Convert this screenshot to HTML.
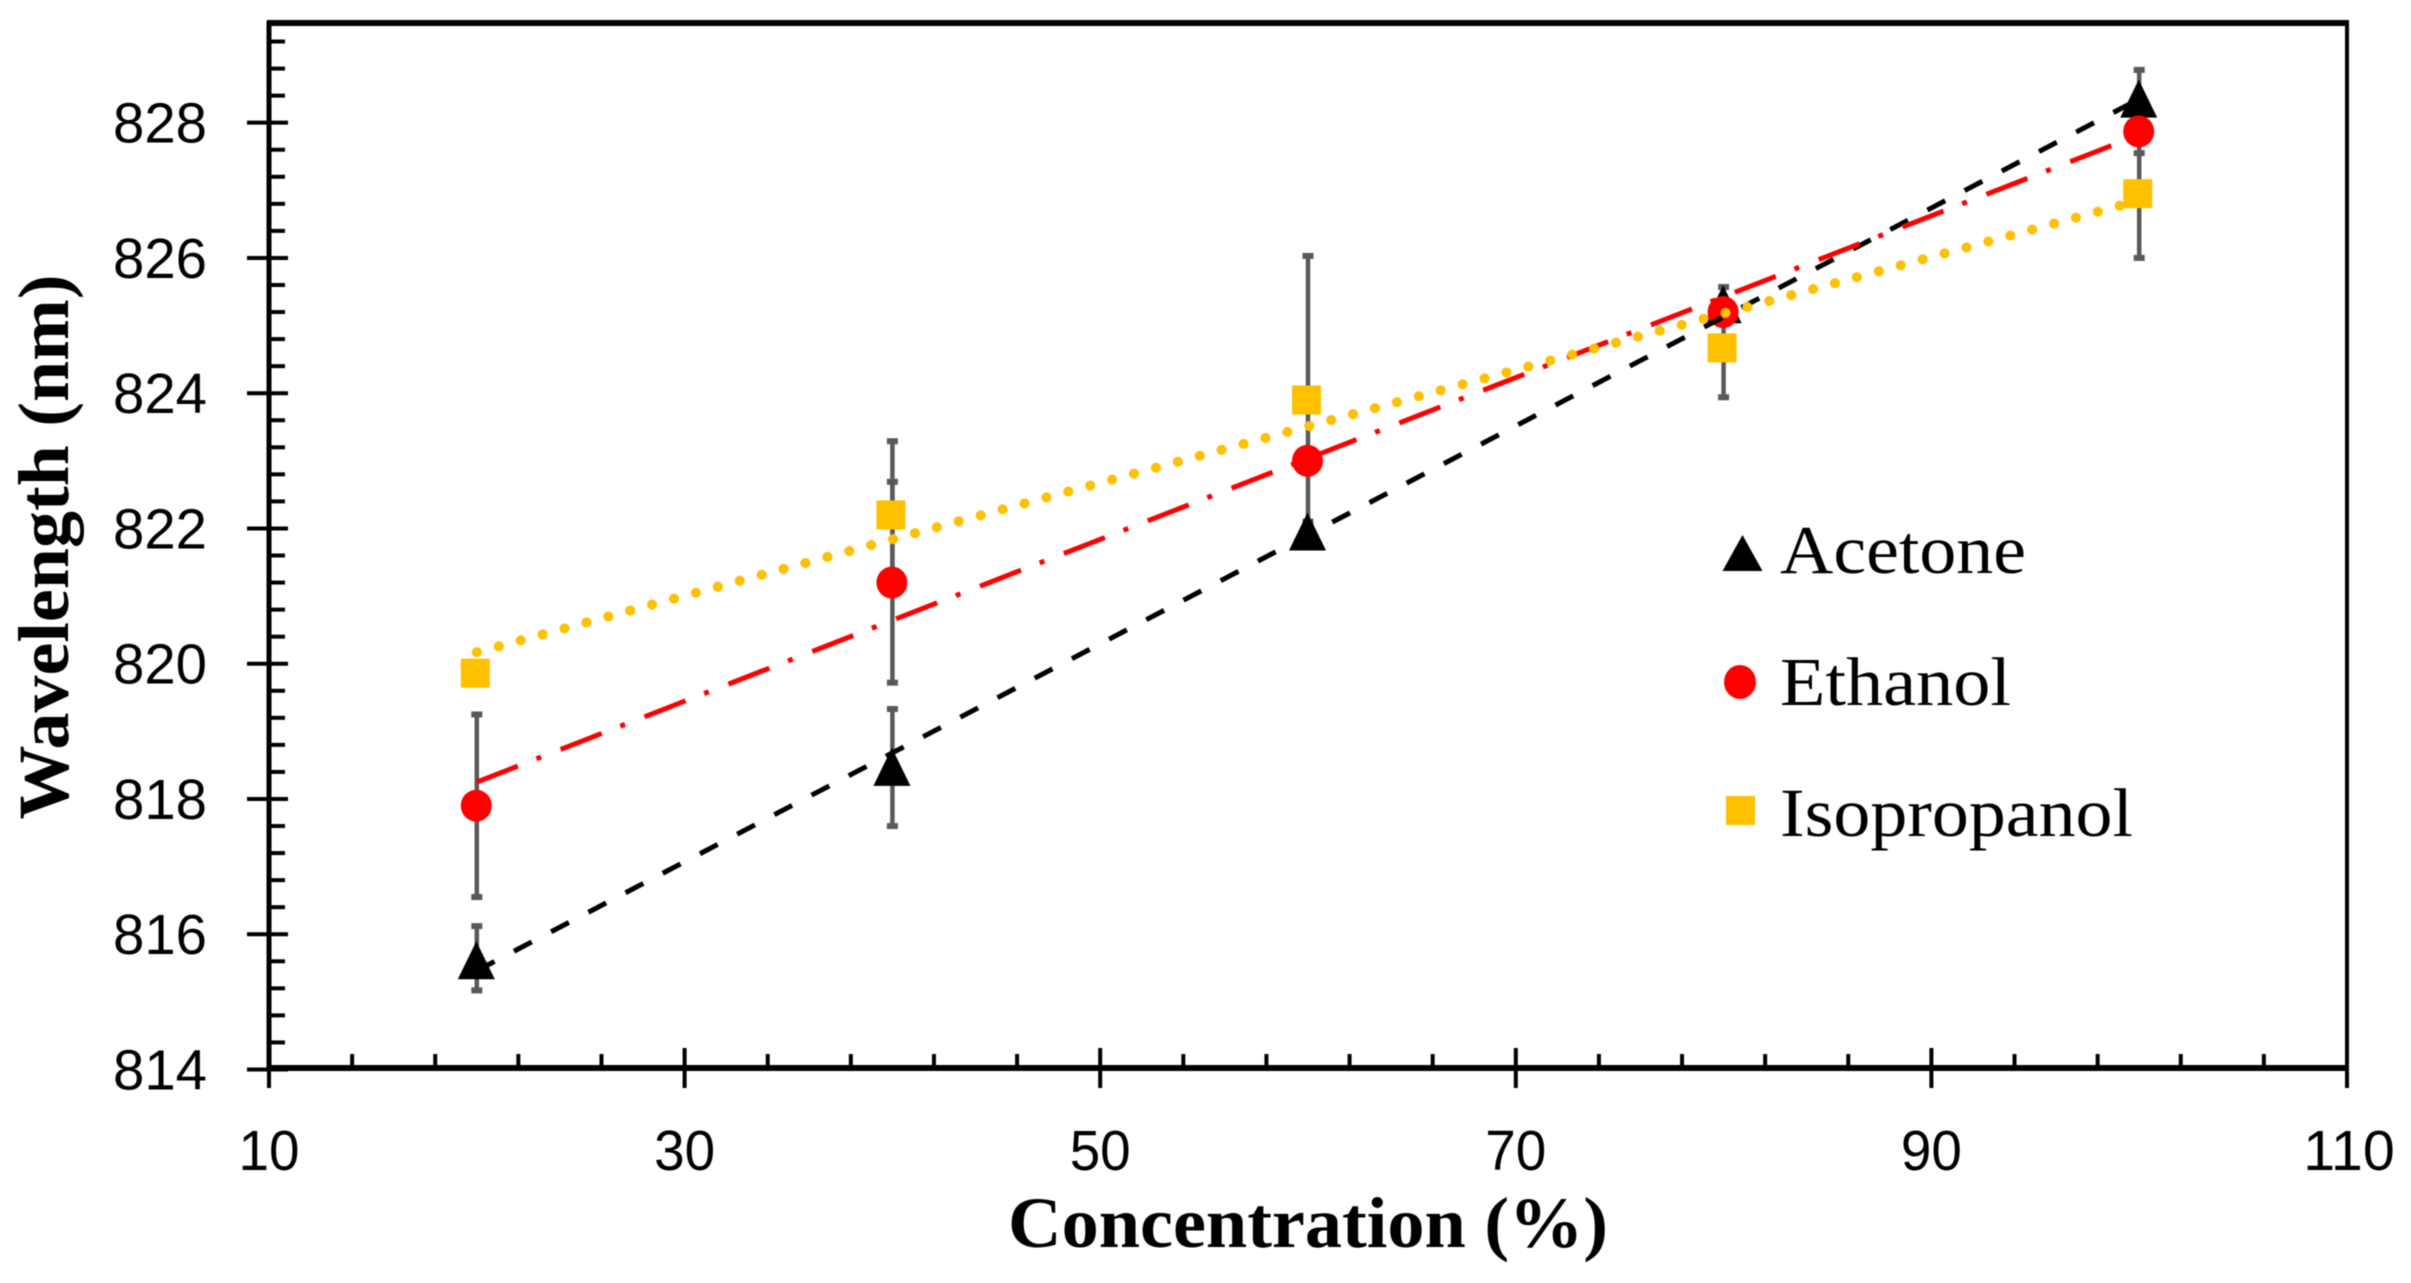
<!DOCTYPE html>
<html lang="en">
<head>
<meta charset="utf-8">
<title>Wavelength vs Concentration</title>
<style>
html,body{margin:0;padding:0;background:#fff;}
svg{display:block;filter:blur(0.6px);}
</style>
</head>
<body>
<svg id="chart" xmlns="http://www.w3.org/2000/svg" width="2411" height="1283" viewBox="0 0 2411 1283">
  <rect x="0" y="0" width="2411" height="1283" fill="#fff"/>
  <g id="errors"></g>
  <g id="markers"></g>
  <g id="trends"></g>
  <g id="axes"></g>
  <text x="1308" y="1247" text-anchor="middle" font-family="'Liberation Serif',serif" font-weight="bold" font-size="72" textLength="600" lengthAdjust="spacingAndGlyphs" fill="#000">Concentration (%)</text>
  <text transform="translate(68,547) rotate(-90)" text-anchor="middle" font-family="'Liberation Serif',serif" font-weight="bold" font-size="72" textLength="545" lengthAdjust="spacingAndGlyphs" fill="#000">Wavelength (nm)</text>
  <g>
    <polygon points="1742.5,535 1762.5,571 1722.5,571" fill="#000"/>
    <text x="1780" y="573" font-family="'Liberation Serif',serif" font-size="69" textLength="246" lengthAdjust="spacingAndGlyphs" fill="#000">Acetone</text>
    <ellipse cx="1740" cy="682" rx="16" ry="17" fill="#ff0000"/>
    <text x="1780" y="705" font-family="'Liberation Serif',serif" font-size="69" textLength="231" lengthAdjust="spacingAndGlyphs" fill="#000">Ethanol</text>
    <rect x="1726" y="796" width="29" height="29" fill="#ffc000"/>
    <text x="1780" y="836" font-family="'Liberation Serif',serif" font-size="69" textLength="353" lengthAdjust="spacingAndGlyphs" fill="#000">Isopropanol</text>
  </g>
</svg>
<script>
const concentrations = [20, 40, 60, 80, 100];

const acetone = [815.6, 818.46, 821.94, 825.3, 828.34];
const ethanol = [817.9, 821.2, 823.0, 825.2, 827.87];
const isopropanol = [819.86, 822.2, 823.9, 824.67, 826.95];

const acetoneLow = [815.17, 817.6, 821.8, 825.1, 827.95];
const acetoneHigh = [816.12, 819.33, 822.1, 825.57, 828.78];
const ethanolLow = [816.55, 819.72, 822.85, 825.05, 827.55];
const ethanolHigh = [819.25, 822.69, 823.15, 825.35, 828.2];
const isopropanolLow = [819.72, 821.1, 821.9, 823.94, 826.0];
const isopropanolHigh = [820.0, 823.29, 826.03, 825.2, 827.9];

const trendX = [20, 100];
const acetoneTrend = [815.46, 828.35];
const ethanolTrend = [818.25, 827.82];
const isopropanolTrend = [820.17, 826.85];

const xTickLabels = [10, 30, 50, 70, 90, 110];
const yTickLabels = [814, 816, 818, 820, 822, 824, 826, 828];

const xAt = v => 269 + (v - 10) * 20.78;
const yAt = v => 1069.5 - (v - 814) * 67.63;

const NS = 'http://www.w3.org/2000/svg';
function make(tag, parent, attrs) {
  const el = document.createElementNS(NS, tag);
  for (const k in attrs) el.setAttribute(k, attrs[k]);
  parent.appendChild(el);
  return el;
}

const axesG = document.getElementById('axes');
const errorsG = document.getElementById('errors');
const markersG = document.getElementById('markers');
const trendsG = document.getElementById('trends');

/* plot frame */
const frame = make('rect', axesG, {x: 269, y: 23, width: 2078, height: 1046, fill: 'none', stroke: '#000'});
frame.setAttribute('stroke-width', '4');



const bottomAxis = make('line', axesG, {x1: 267, x2: 2349, y1: 1068, y2: 1068, stroke: '#000', 'stroke-width': 6});



const leftAxis = make('line', axesG, {x1: 269, x2: 269, y1: 21, y2: 1071, stroke: '#000', 'stroke-width': 5});



const topAxis = make('line', axesG, {x1: 267, x2: 2349, y1: 23, y2: 23, stroke: '#000', 'stroke-width': 6});



/* x ticks */
for (let v = 14; v < 110; v += 4) {
  if ((v - 10) % 20 === 0) continue;
  const t = make('line', axesG, {x1: xAt(v), x2: xAt(v), y1: 1054, y2: 1068, stroke: '#000', 'stroke-width': 4});
  
  
}
xTickLabels.forEach(v => {
  const t = make('line', axesG, {x1: xAt(v), x2: xAt(v), y1: 1048, y2: 1088, stroke: '#000', 'stroke-width': 4});
  
  
  const s = String(v);
  const lab = make('text', axesG, {x: xAt(v) + (v === 110 ? 2 : 0), y: 1170, 'text-anchor': 'middle', 'font-family': "'Liberation Sans',sans-serif", 'font-size': 57, fill: '#000', textLength: s.length * 30.5, lengthAdjust: 'spacingAndGlyphs'});
  lab.textContent = s;
  
  
});

/* y ticks */
for (let i = 1; i <= 38; i++) {
  if (i % 5 === 0) continue;
  const v = 814 + i * 0.4;
  const t = make('line', axesG, {x1: 269, x2: 285, y1: yAt(v), y2: yAt(v), stroke: '#000', 'stroke-width': 4});
  
  
}
yTickLabels.forEach(v => {
  const t = make('line', axesG, {x1: 247, x2: 288, y1: yAt(v), y2: yAt(v), stroke: '#000', 'stroke-width': 4});
  
  
  const lab = make('text', axesG, {x: 207, y: yAt(v) + 20, 'text-anchor': 'end', 'font-family': "'Liberation Sans',sans-serif", 'font-size': 57, fill: '#000', textLength: 94, lengthAdjust: 'spacingAndGlyphs'});
  lab.textContent = String(v);
  
  
});

/* error bars */
function drawErrors(lows, highs) {
  concentrations.forEach((c, i) => {
    const x = xAt(c);
    const bar = make('line', errorsG, {x1: x, x2: x, y1: yAt(lows[i]), y2: yAt(highs[i]), stroke: '#595959', 'stroke-width': 4.5});
    
    
    [lows[i], highs[i]].forEach(v => {
      const cap = make('rect', errorsG, {x: x - 5.5, y: yAt(v) - 3, width: 11, height: 6, fill: '#595959'});
      
      
    });
  });
}
drawErrors(isopropanolLow, isopropanolHigh);
drawErrors(ethanolLow, ethanolHigh);
drawErrors(acetoneLow, acetoneHigh);

/* markers */
concentrations.forEach((c, i) => {
  const x = xAt(c) - 0.5, y = yAt(acetone[i]);
  const m = make('polygon', markersG, {points: `${x},${y - 20} ${x + 18.5},${y + 18} ${x - 18.5},${y + 18}`, fill: '#000'});
  
  
});
concentrations.forEach((c, i) => {
  const m = make('ellipse', markersG, {cx: xAt(c) - 0.5, cy: yAt(ethanol[i]), rx: 15.5, ry: 16, fill: '#ff0000'});
  
  
});
concentrations.forEach((c, i) => {
  const m = make('rect', markersG, {x: xAt(c) - 16, y: yAt(isopropanol[i]) - 14.5, width: 29, height: 29, fill: '#ffc000'});
  
  
});

/* trend lines */
const acetoneLine = make('line', trendsG, {x1: xAt(trendX[0]), y1: yAt(acetoneTrend[0]), x2: xAt(trendX[1]), y2: yAt(acetoneTrend[1]), stroke: '#000', 'stroke-width': 5, 'stroke-dasharray': '20 22'});



const ethanolLine = make('line', trendsG, {x1: xAt(trendX[0]), y1: yAt(ethanolTrend[0]), x2: xAt(trendX[1]), y2: yAt(ethanolTrend[1]), stroke: '#ff0000', 'stroke-width': 5, 'stroke-dasharray': '44 20 5 21'});



const isoLine = make('line', trendsG, {x1: xAt(trendX[0]), y1: yAt(isopropanolTrend[0]), x2: xAt(trendX[1]), y2: yAt(isopropanolTrend[1]), stroke: '#ffc000', 'stroke-width': 10, 'stroke-linecap': 'round', 'stroke-dasharray': '0.1 22.6'});


</script>
</body>
</html>
